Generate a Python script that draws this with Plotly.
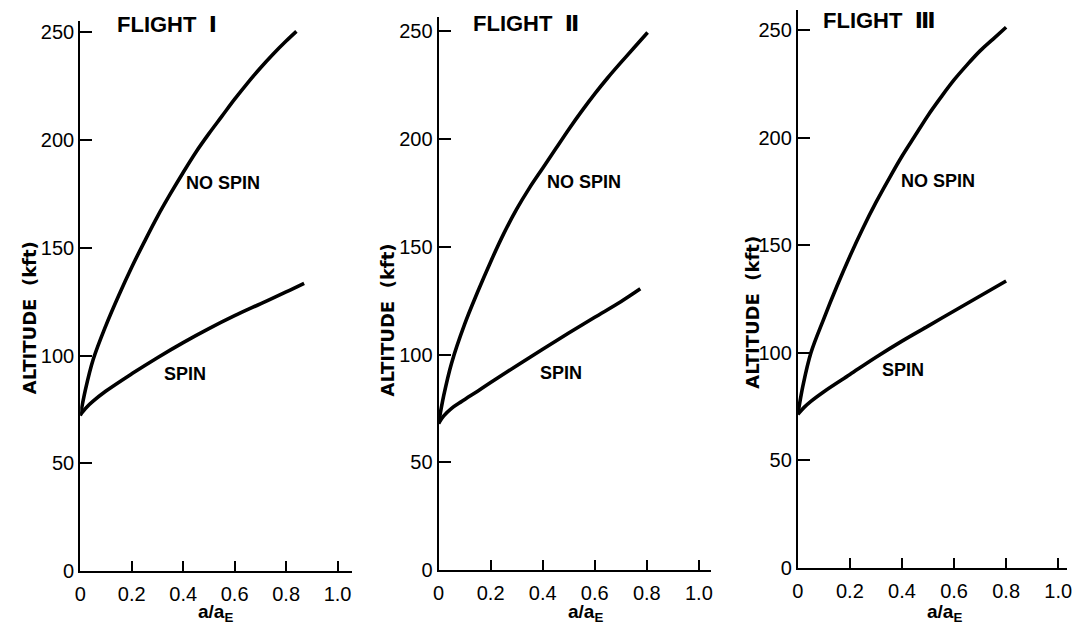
import plotly.graph_objects as go

W, H = 1079, 633

# ---------------- data ----------------
x_tick_vals = [0, 0.2, 0.4, 0.6, 0.8, 1.0]
x_tick_text = ["0", "0.2", "0.4", "0.6", "0.8", "1.0"]
y_tick_vals = [0, 50, 100, 150, 200, 250]
y_tick_text = ["0", "50", "100", "150", "200", "250"]

flight_titles = ["FLIGHT  Ⅰ", "FLIGHT  Ⅱ", "FLIGHT  Ⅲ"]
curve_names = ["NO SPIN", "SPIN"]
y_title = "ALTITUDE  (kft)"
x_title = "a/a<sub>E</sub>"

# Flight I
f1_nospin_x = [0, 0.02, 0.05, 0.1, 0.15, 0.2, 0.25, 0.3, 0.35, 0.4, 0.45, 0.5, 0.55, 0.6, 0.65, 0.7, 0.75, 0.8, 0.84]
f1_nospin_y = [72, 84, 98, 114, 128, 141, 153, 164.5, 175, 185, 194.5, 203, 211, 219, 226.5, 233.5, 240, 246, 250.5]
f1_spin_x = [0, 0.025, 0.05, 0.1, 0.2, 0.3, 0.4, 0.5, 0.6, 0.7, 0.8, 0.87]
f1_spin_y = [72.5, 76, 78.8, 83.5, 91.5, 99, 106, 112.5, 118.5, 124, 129.5, 133.5]

# Flight II
f2_nospin_x = [0, 0.02, 0.05, 0.1, 0.15, 0.2, 0.25, 0.3, 0.35, 0.4, 0.45, 0.5, 0.55, 0.6, 0.65, 0.7, 0.75, 0.803]
f2_nospin_y = [68, 81, 96, 114, 129, 143, 156, 167.5, 177.5, 186.5, 195.5, 204.5, 213, 221, 228.5, 235.5, 242.3, 249.5]
f2_spin_x = [0, 0.02, 0.05, 0.09, 0.15, 0.2, 0.3, 0.4, 0.5, 0.6, 0.7, 0.775]
f2_spin_y = [68, 71.5, 75, 78.3, 83, 87, 94.8, 102.5, 110, 117.3, 124.5, 130.5]

# Flight III
f3_nospin_x = [0, 0.02, 0.05, 0.1, 0.15, 0.2, 0.25, 0.3, 0.35, 0.4, 0.45, 0.5, 0.55, 0.6, 0.65, 0.7, 0.75, 0.8]
f3_nospin_y = [71.5, 85, 100, 116, 131, 145, 158, 170, 181, 191.5, 201, 210.5, 219, 227, 234, 240.5, 246, 251.5]
f3_spin_x = [0, 0.025, 0.05, 0.1, 0.2, 0.3, 0.4, 0.5, 0.6, 0.7, 0.8]
f3_spin_y = [71.5, 74.8, 77.5, 82, 90, 98, 105.5, 112.5, 119.5, 126.5, 133.5]

series = [
    (f1_nospin_x, f1_nospin_y, f1_spin_x, f1_spin_y),
    (f2_nospin_x, f2_nospin_y, f2_spin_x, f2_spin_y),
    (f3_nospin_x, f3_nospin_y, f3_spin_x, f3_spin_y),
]

# ---------------- layout (pixel geometry) ----------------
panels = [
    dict(x0=75, x1=350, ux=260, y0=581, y1=21, uy=2.192,
         title=(110, 25), nospin=(180, 186), spin=(158, 381), ytitle=(24, 323), xtitle=(212, 624)),
    dict(x0=437, x1=712, ux=263, y0=580, y1=17, uy=2.192,
         title=(470, 24), nospin=(545, 185), spin=(537, 380), ytitle=(385, 326), xtitle=(585, 624)),
    dict(x0=800, x1=1072, ux=263, y0=578, y1=10, uy=2.188,
         title=(823, 21), nospin=(902, 184), spin=(883, 377), ytitle=(754, 318), xtitle=(948, 624)),
]

def fx(p):
    return p / W

def fy(p):
    return 1 - p / H

fig = go.Figure()
annotations = []
label_font = dict(family="Liberation Sans, Arial, sans-serif", size=18, color="black", weight="bold")

for i, (p, s) in enumerate(zip(panels, series)):
    n = "" if i == 0 else str(i + 1)
    xa, ya = "x" + n, "y" + n
    for xs, ys in ((s[0], s[1]), (s[2], s[3])):
        fig.add_trace(go.Scatter(x=xs, y=ys, mode="lines", xaxis=xa, yaxis=ya,
                                 line=dict(color="black", width=3.6, shape="spline", smoothing=1.0),
                                 showlegend=False, hoverinfo="skip"))
    xmax = (p["x1"] - p["x0"]) / p["ux"]
    ymax = (p["y0"] - p["y1"]) / p["uy"]
    axis_common = dict(showgrid=False, zeroline=False, showline=True, linecolor="black", linewidth=2,
                       ticks="inside", tickcolor="black", tickwidth=2,
                       tickfont=dict(family="Liberation Sans, Arial, sans-serif", size=20, color="black"))
    fig.update_layout(**{
        "xaxis" + n: dict(domain=[fx(p["x0"]), fx(p["x1"])], range=[0, xmax], anchor=ya,
                          tickvals=x_tick_vals, ticktext=x_tick_text, ticklen=10,
                          ticklabelstandoff=4, **axis_common),
        "yaxis" + n: dict(domain=[fy(p["y0"]), fy(p["y1"])], range=[0, ymax], anchor=xa,
                          tickvals=y_tick_vals, ticktext=y_tick_text, ticklen=12,
                          **axis_common),
    })
    annotations.append(dict(text=flight_titles[i], x=fx(p["title"][0]), y=fy(p["title"][1]),
                            xref="paper", yref="paper", xanchor="left", yanchor="middle", showarrow=False,
                            font=dict(family="Liberation Sans, DejaVu Sans, sans-serif", size=22,
                                      color="black", weight="bold")))
    annotations.append(dict(text=curve_names[0], x=fx(p["nospin"][0]), y=fy(p["nospin"][1]),
                            xref="paper", yref="paper", xanchor="left", yanchor="middle",
                            showarrow=False, font=label_font))
    annotations.append(dict(text=curve_names[1], x=fx(p["spin"][0]), y=fy(p["spin"][1]),
                            xref="paper", yref="paper", xanchor="left", yanchor="middle",
                            showarrow=False, font=label_font))
    annotations.append(dict(text=y_title, x=fx(p["ytitle"][0]), y=fy(p["ytitle"][1]),
                            xref="paper", yref="paper", xanchor="center", yanchor="middle",
                            textangle=-90, showarrow=False,
                            font=dict(family="DejaVu Sans, sans-serif", size=18, color="black",
                                      weight="bold")))
    annotations.append(dict(text=x_title, x=fx(p["xtitle"][0]), y=fy(p["xtitle"][1]),
                            xref="paper", yref="paper", xanchor="center", yanchor="middle",
                            showarrow=False,
                            font=dict(family="Liberation Sans, Arial, sans-serif", size=19,
                                      color="black", weight="bold")))

fig.update_layout(width=W, height=H, margin=dict(l=0, r=0, t=0, b=0),
                  paper_bgcolor="white", plot_bgcolor="white", annotations=annotations)

fig.write_html("out.html")
